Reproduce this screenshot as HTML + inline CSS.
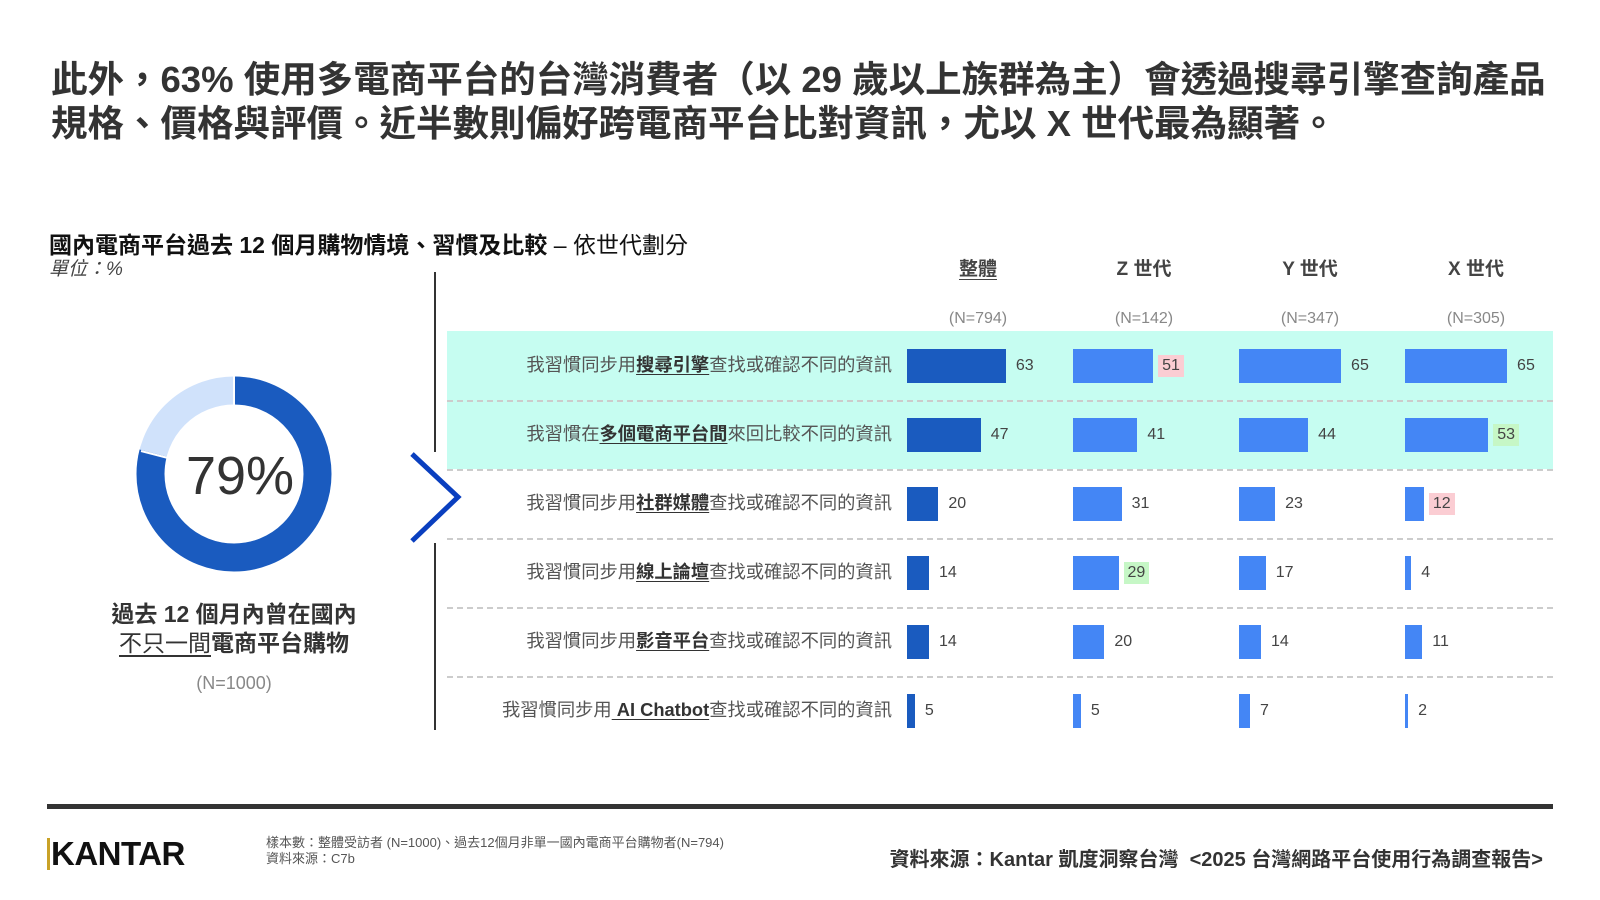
<!DOCTYPE html>
<html><head><meta charset="utf-8"><style>
*{margin:0;padding:0;box-sizing:border-box}
body{width:1600px;height:900px;background:#fff;position:relative;overflow:hidden;font-family:"Liberation Sans","Noto Sans CJK TC",sans-serif;color:#333}
.a{position:absolute;white-space:nowrap}
.t{left:51px;font-size:36.5px;font-weight:bold;color:#333;line-height:44px}
.lab{right:708px;font-size:18.3px;color:#555;line-height:20px}
.lab b{color:#333;text-decoration:underline;text-underline-offset:3px}
.bar{position:absolute;height:34px}
.v{font-size:16px;color:#444;line-height:22px;padding:0 4px}
.hd{font-size:19px;font-weight:bold;color:#444;transform:translateX(-50%)}
.n{font-size:16px;color:#888;transform:translateX(-50%)}
.dash{position:absolute;left:447px;width:1106px;border-top:2px dashed #ccc}
</style></head><body>
<div class="a t" style="top:58px">此外，63% 使用多電商平台的台灣消費者（以 29 歲以上族群為主）會透過搜尋引擎查詢產品</div>
<div class="a t" style="top:102px">規格、價格與評價。近半數則偏好跨電商平台比對資訊，尤以 X 世代最為顯著。</div>
<div class="a" style="left:49px;top:226px;font-size:23px;font-weight:bold;color:#111">國內電商平台過去 12 個月購物情境、習慣及比較 <span style="font-weight:normal">– 依世代劃分</span></div>
<div class="a" style="left:49px;top:254px;font-size:19px;font-style:italic;color:#444">單位：%</div>

<svg class="a" style="left:0;top:0" width="1600" height="900">
<circle cx="234" cy="474" r="83.5" fill="none" stroke="#d0e2fb" stroke-width="28"/>
<circle cx="234" cy="474" r="83.5" fill="none" stroke="#1a5bbf" stroke-width="28" stroke-dasharray="414.5 600" transform="rotate(-90 234 474)"/>
<line x1="234" y1="376" x2="234" y2="406" stroke="#fff" stroke-width="2"/>
<line x1="141" y1="451" x2="168" y2="458" stroke="#fff" stroke-width="2"/>
<text x="240" y="494" font-size="54" text-anchor="middle" fill="#333" font-family="Liberation Sans">79%</text>
<line x1="435" y1="272" x2="435" y2="452" stroke="#333" stroke-width="2"/>
<line x1="435" y1="543" x2="435" y2="730" stroke="#333" stroke-width="2"/>
<polyline points="412,454 458,497 412,541" fill="none" stroke="#0a3fbf" stroke-width="5"/>
</svg>
<div class="a" style="left:234px;top:600px;transform:translateX(-50%);font-size:23px;font-weight:bold;color:#333;line-height:29px;text-align:center">過去 12 個月內曾在國內<br><span style="text-decoration:underline;text-underline-offset:4px;font-weight:normal">不只一間</span>電商平台購物</div>
<div class="a" style="left:234px;top:673px;transform:translateX(-50%);font-size:18px;color:#888">(N=1000)</div>

<div style="position:absolute;left:447px;top:331px;width:1106px;height:138px;background:#c6fdf1"></div>
<div class="dash" style="top:400px"></div><div class="dash" style="top:469px"></div><div class="dash" style="top:538px"></div><div class="dash" style="top:607px"></div><div class="dash" style="top:676px"></div>

<div class="a hd" style="left:978px;top:254px;text-decoration:underline;text-underline-offset:4px">整體</div>
<div class="a hd" style="left:1144px;top:254px">Z 世代</div>
<div class="a hd" style="left:1310px;top:254px">Y 世代</div>
<div class="a hd" style="left:1476px;top:254px">X 世代</div>
<div class="a n" style="left:978px;top:310px">(N=794)</div>
<div class="a n" style="left:1144px;top:310px">(N=142)</div>
<div class="a n" style="left:1310px;top:310px">(N=347)</div>
<div class="a n" style="left:1476px;top:310px">(N=305)</div>

<div id="rows"></div>
<script>
var labels=['我習慣同步用<b>搜尋引擎</b>查找或確認不同的資訊','我習慣在<b>多個電商平台間</b>來回比較不同的資訊','我習慣同步用<b>社群媒體</b>查找或確認不同的資訊','我習慣同步用<b>線上論壇</b>查找或確認不同的資訊','我習慣同步用<b>影音平台</b>查找或確認不同的資訊','我習慣同步用<b> AI Chatbot</b>查找或確認不同的資訊'];
var d=[[63,51,65,65],[47,41,44,53],[20,31,23,12],[14,29,17,4],[14,20,14,11],[5,5,7,2]];
var hl={'0,1':'#fbcdd3','1,3':'#c6f7c6','2,3':'#fbcdd3','3,1':'#c6f7c6'};
var xs=[907,1073,1239,1405],h='';
for(var i=0;i<6;i++){var cy=366+69*i;
h+='<div class="a lab" style="top:'+(cy-11)+'px">'+labels[i]+'</div>';
for(var j=0;j<4;j++){var w=d[i][j]*1.57;
h+='<div class="bar" style="left:'+xs[j]+'px;top:'+(cy-17)+'px;width:'+w+'px;background:'+(j==0?'#1a5bbf':'#4486f5')+'"></div>';
var bg=hl[i+','+j];
h+='<div class="a v" style="left:'+(xs[j]+w+(bg?5:6))+'px;top:'+(cy-11)+'px;'+(bg?'background:'+bg:'')+'">'+d[i][j]+'</div>';}}
document.getElementById('rows').innerHTML=h;
</script>

<div style="position:absolute;left:47px;top:804px;width:1506px;height:5px;background:#333"></div>
<div class="a" style="left:47px;top:838px;font-size:33px;font-weight:bold;color:#111;letter-spacing:-0.5px;border-left:3px solid #c9a227;padding-left:1px;line-height:32px">KANTAR</div>
<div class="a" style="left:266px;top:835px;font-size:13px;color:#555;line-height:16px">樣本數：整體受訪者 (N=1000)、過去12個月非單一國內電商平台購物者(N=794)<br>資料來源：C7b</div>
<div class="a" style="right:57px;top:843px;font-size:20px;font-weight:bold;color:#333">資料來源：Kantar 凱度洞察台灣 &nbsp;&lt;2025 台灣網路平台使用行為調查報告&gt;</div>
</body></html>
